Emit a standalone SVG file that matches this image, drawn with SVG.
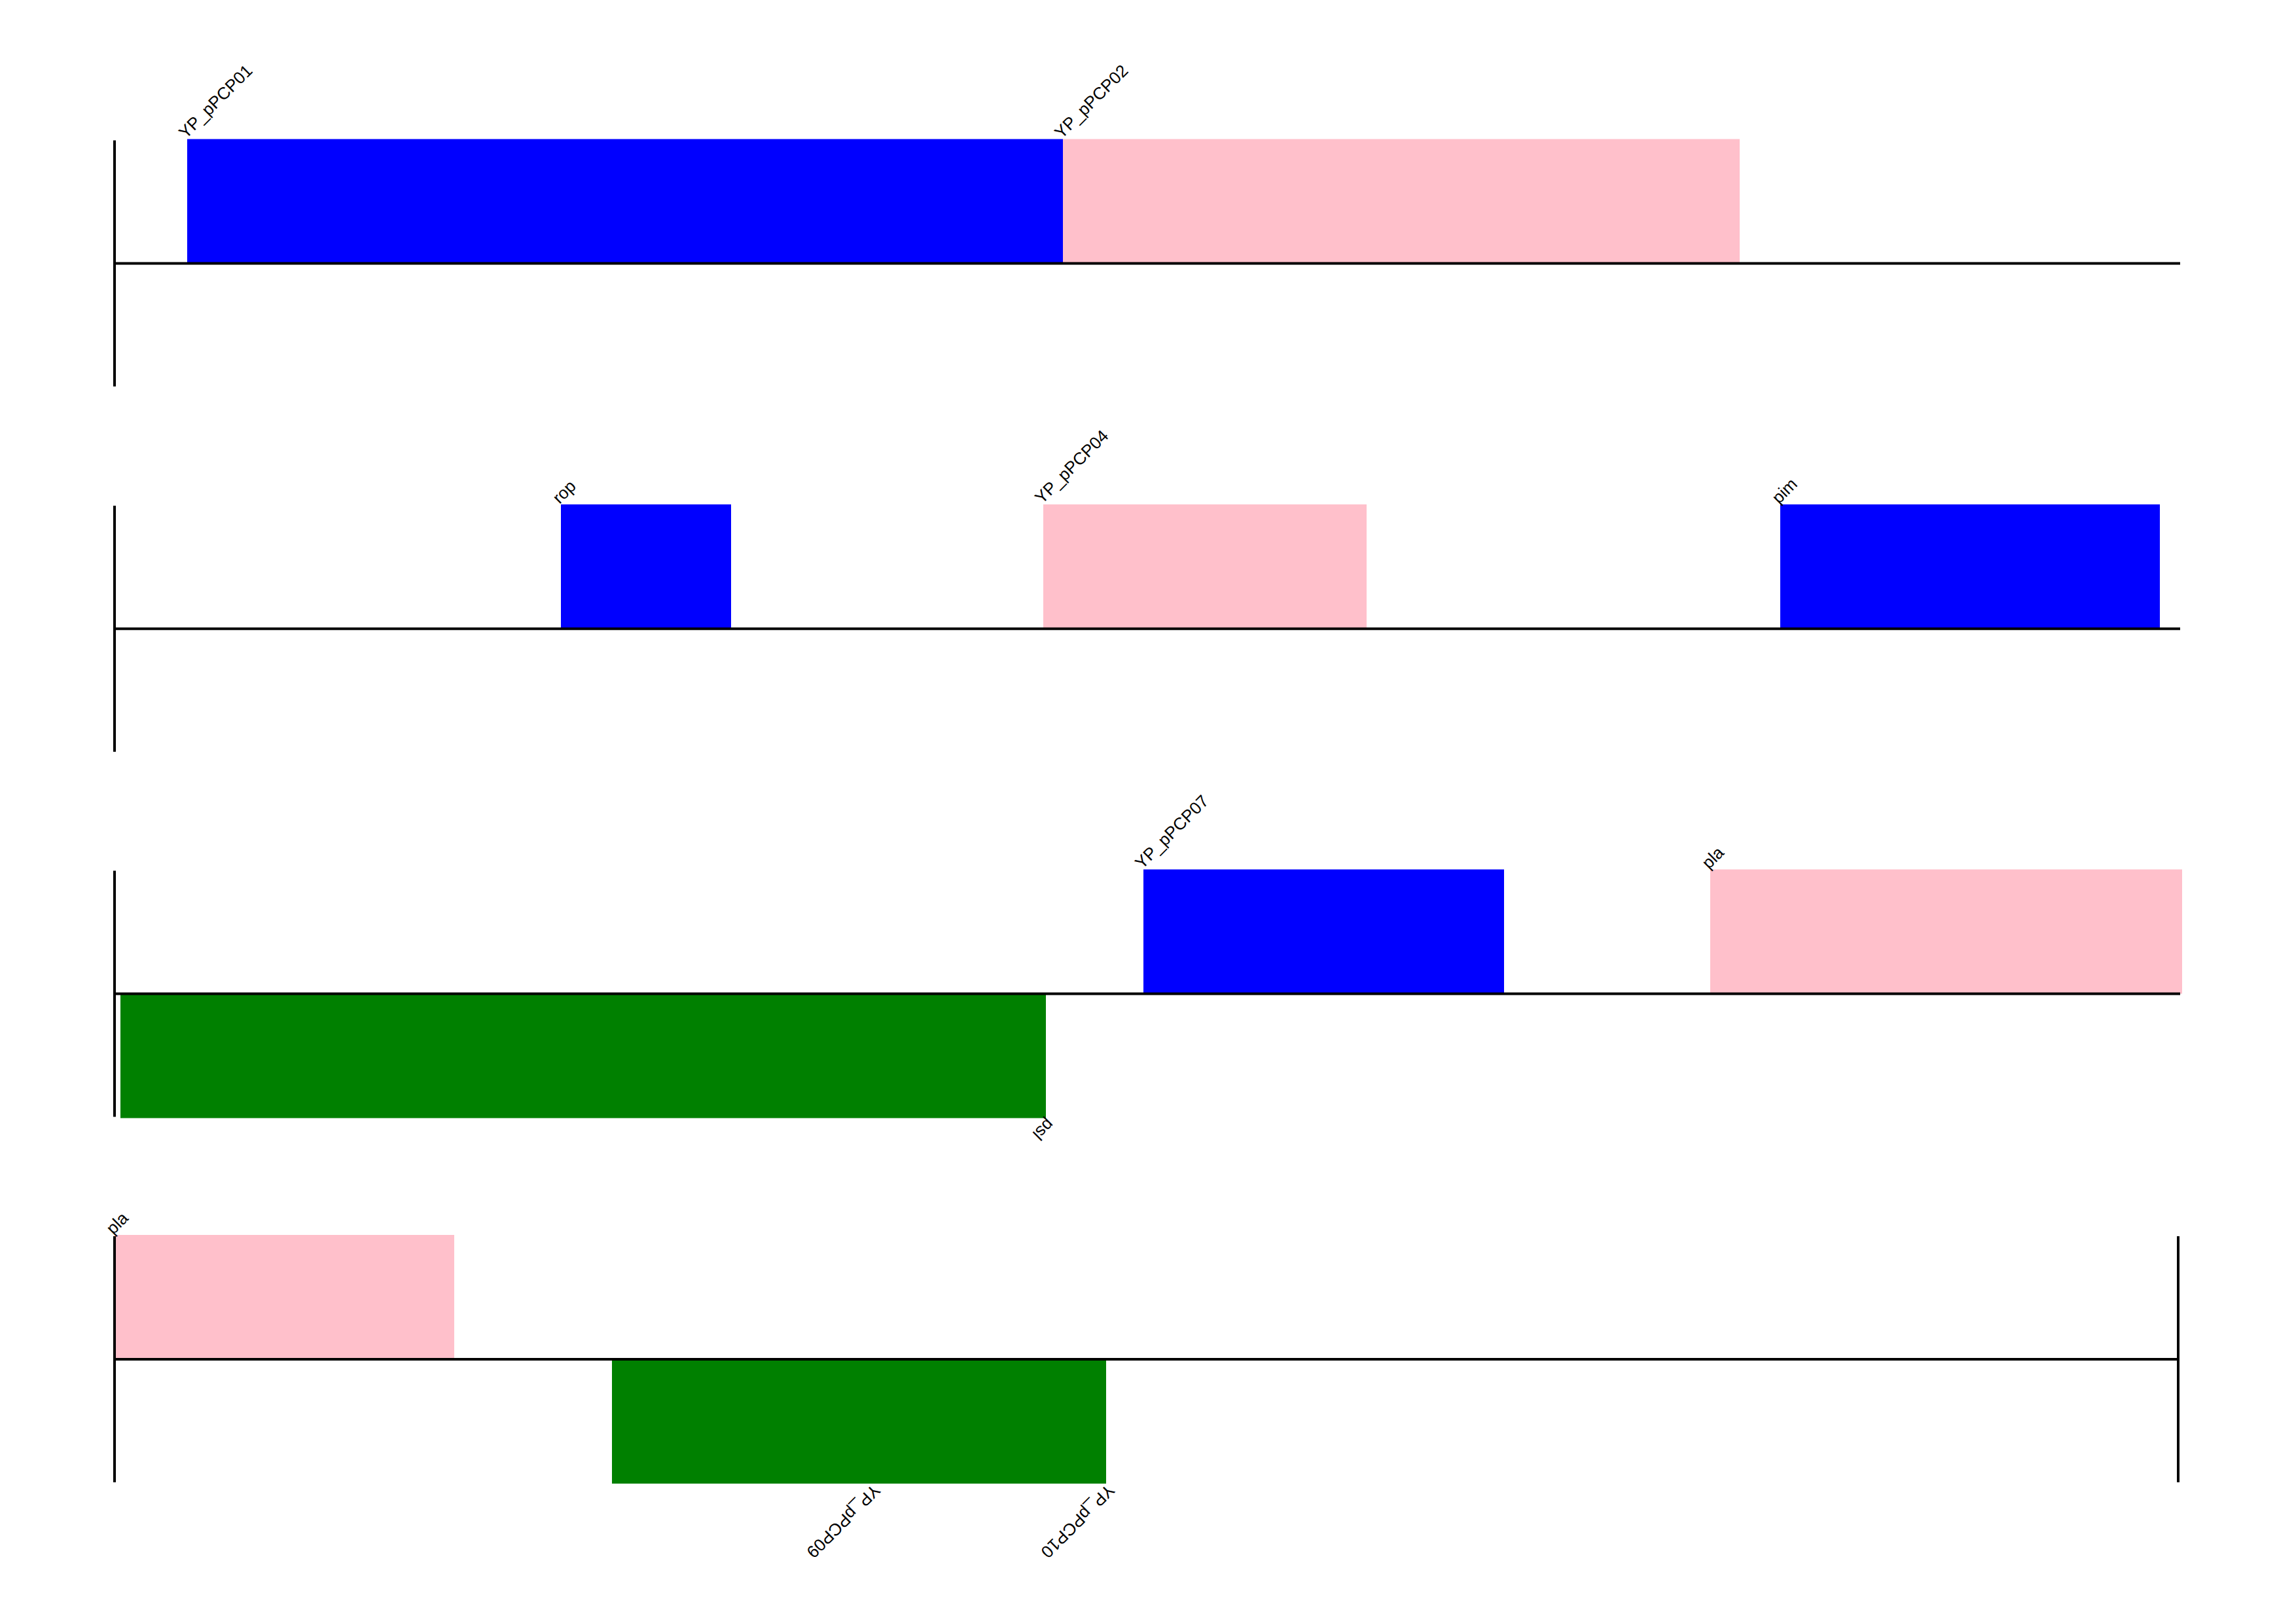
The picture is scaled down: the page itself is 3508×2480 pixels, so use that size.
<svg xmlns="http://www.w3.org/2000/svg" width="3508" height="2480" viewBox="0 0 3508 2480">
<style>
.fwd{fill:#0000ff}
.pink{fill:#ffc0cb}
.rev{fill:#008000}
.ax{stroke:#000;stroke-width:4;fill:none}
.lbl{font-family:"Liberation Sans",Arial,sans-serif;font-size:26px;fill:#000}
</style>
<rect width="3508" height="2480" fill="#fff"/>
<g id="row1">
<g id="YP_pPCP01"><rect class="fwd" x="286" y="212.5" width="1338" height="190"/><text class="lbl" transform="translate(284,213) rotate(-45)">YP_pPCP01</text></g>
<g id="YP_pPCP02"><rect class="pink" x="1624" y="212.5" width="1034" height="190"/><text class="lbl" transform="translate(1622,213) rotate(-45)">YP_pPCP02</text></g>
</g>
<g id="row2">
<g id="rop"><rect class="fwd" x="857" y="770.7" width="260" height="190"/><text class="lbl" transform="translate(855,771) rotate(-45)">rop</text></g>
<g id="YP_pPCP04"><rect class="pink" x="1594" y="770.7" width="494" height="190"/><text class="lbl" transform="translate(1592,771) rotate(-45)">YP_pPCP04</text></g>
<g id="pim"><rect class="fwd" x="2720" y="770.7" width="580" height="190"/><text class="lbl" transform="translate(2718,771) rotate(-45)">pim</text></g>
</g>
<g id="row3">
<g id="YP_pPCP07"><rect class="fwd" x="1747" y="1328.5" width="551" height="190"/><text class="lbl" transform="translate(1745,1329) rotate(-45)">YP_pPCP07</text></g>
<g id="pla_r3"><rect class="pink" x="2613" y="1328.5" width="721" height="190"/><text class="lbl" transform="translate(2611,1329) rotate(-45)">pla</text></g>
<g id="psl"><rect class="rev" x="184" y="1518.5" width="1414" height="190"/><text class="lbl" transform="translate(1600,1708) rotate(135)">psl</text></g>
</g>
<g id="row4">
<g id="pla_r4"><rect class="pink" x="175" y="1887" width="519" height="190"/><text class="lbl" transform="translate(173,1887.5) rotate(-45)">pla</text></g>
<g id="YP_pPCP09"><rect class="rev" x="935" y="2077" width="397" height="190"/><text class="lbl" transform="translate(1334,2266.5) rotate(135)">YP_pPCP09</text></g>
<g id="YP_pPCP10"><rect class="rev" x="1332" y="2077" width="358" height="190"/><text class="lbl" transform="translate(1692,2266.5) rotate(135)">YP_pPCP10</text></g>
</g>
<g id="connectors">
<line class="ax" x1="175" y1="402.5" x2="3331" y2="402.5"/>
<line class="ax" x1="175" y1="214.5" x2="175" y2="590.5"/>
<line class="ax" x1="175" y1="960.7" x2="3331" y2="960.7"/>
<line class="ax" x1="175" y1="772.7" x2="175" y2="1148.7"/>
<line class="ax" x1="175" y1="1518.5" x2="3331" y2="1518.5"/>
<line class="ax" x1="175" y1="1330.5" x2="175" y2="1706.5"/>
<line class="ax" x1="175" y1="2077" x2="3328" y2="2077"/>
<line class="ax" x1="175" y1="1889" x2="175" y2="2265"/>
<line class="ax" x1="3328" y1="1889" x2="3328" y2="2265"/>
</g>
</svg>
